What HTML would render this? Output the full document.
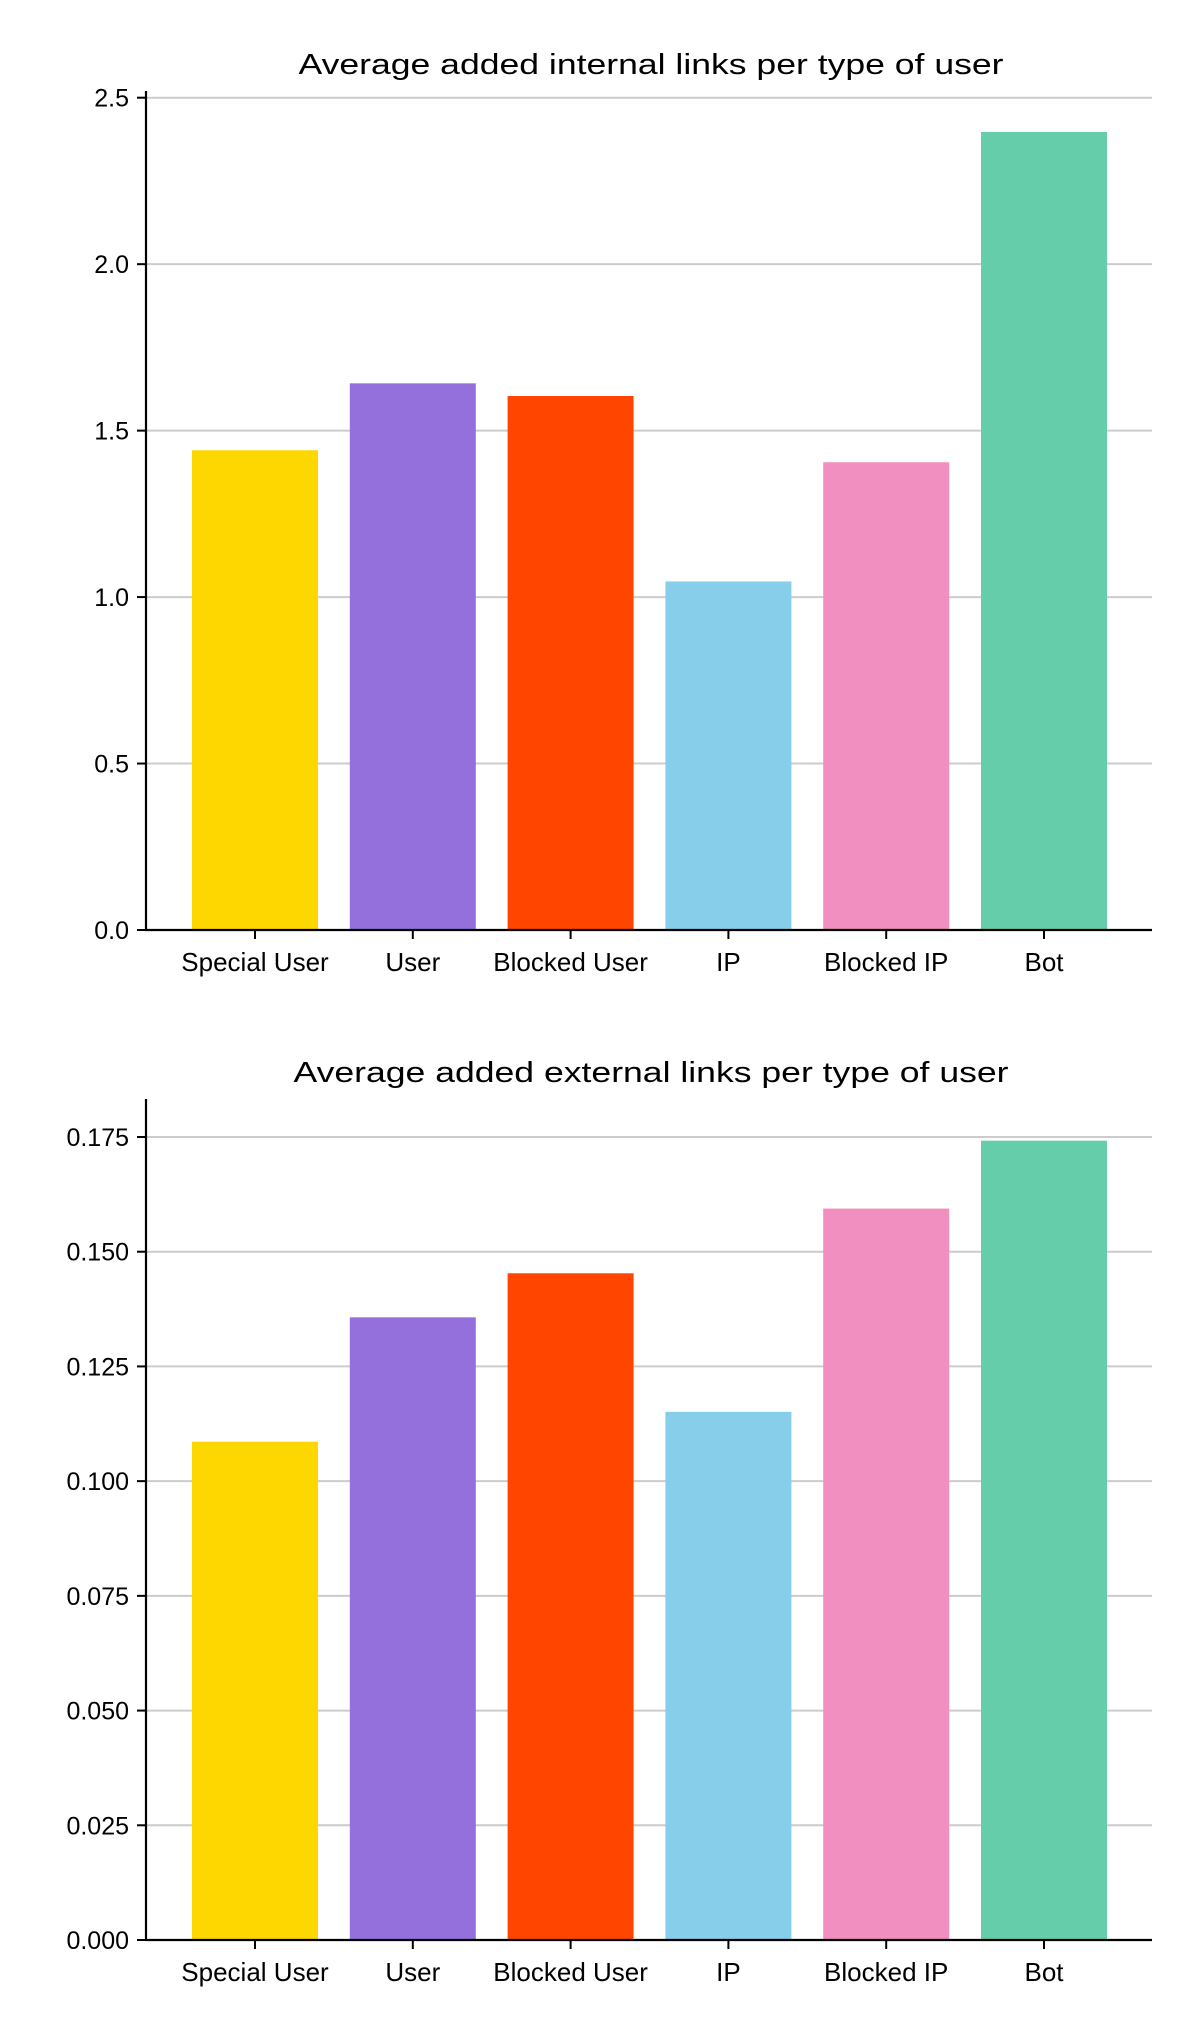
<!DOCTYPE html>
<html><head><meta charset="utf-8"><style>
html,body{margin:0;padding:0;background:#fff}
svg{display:block;font-family:"Liberation Sans",sans-serif}
</style></head><body>
<svg id="svg" width="1203" height="2036" viewBox="0 0 1203 2036"></svg>
<script>
const categories = ["Special User","User","Blocked User","IP","Blocked IP","Bot"];
const colors = ["#FFD700","#9370DB","#FF4500","#87CEEB","#F08FC0","#66CDAA"];
const internalValues = [1.441,1.642,1.604,1.047,1.405,2.397];
const externalValues = [0.1086,0.1357,0.1453,0.1151,0.1594,0.1742];
const internalTicks = ["0.0","0.5","1.0","1.5","2.0","2.5"];
const externalTicks = ["0.000","0.025","0.050","0.075","0.100","0.125","0.150","0.175"];
const NS="http://www.w3.org/2000/svg";
const svg=document.getElementById('svg');
function mk(tag,attrs,parent){const e=document.createElementNS(NS,tag);for(const k in attrs)e.setAttribute(k,attrs[k]);(parent||svg).appendChild(e);return e;}
function chart(o){
  const g=mk('g',{});
  
  
  const x0=146,x1=1152;
  const y=v=>o.zeroY-(v/o.tickStep)*o.stepPx;
  const t=mk('text',{x:(x0+x1)/2+2,y:o.titleY,'text-anchor':'middle','font-size':29,fill:'#000',textLength:o.titleW,lengthAdjust:'spacingAndGlyphs'},g);
  t.textContent=o.title;
  
  
  o.ticks.forEach((lab,i)=>{
    const yy=y(i*o.tickStep);
    if(i>0){const gl=mk('line',{x1:x0,x2:x1,y1:yy,y2:yy,stroke:'#cccccc','stroke-width':2},g);
      
      }
    mk('line',{x1:x0-9,x2:x0,y1:yy,y2:yy,stroke:'#000','stroke-width':2},g);
    const tl=mk('text',{x:x0-17,y:yy+9,'text-anchor':'end','font-size':25,fill:'#000'},g);
    tl.textContent=lab;
    
    
  });
  const step=157.8, bw=126, c0=255;
  categories.forEach((c,i)=>{
    const cx=c0+i*step, v=o.values[i];
    const r=mk('rect',{x:cx-bw/2,y:y(v),width:bw,height:o.zeroY-y(v),fill:colors[i]},g);
    
    
    mk('line',{x1:cx,x2:cx,y1:o.zeroY,y2:o.zeroY+9,stroke:'#000','stroke-width':2},g);
    const xl=mk('text',{x:cx,y:o.zeroY+41,'text-anchor':'middle','font-size':26,fill:'#000'},g);
    xl.textContent=c;
    
    
  });
  const ya=mk('line',{x1:x0,x2:x0,y1:o.axisTop,y2:o.zeroY+1,stroke:'#000','stroke-width':2.2},g);
  
  
  const xa=mk('line',{x1:x0-1,x2:x1,y1:o.zeroY,y2:o.zeroY,stroke:'#000','stroke-width':2.2},g);
  
  
}
chart({name:'internal-links-chart',title:'Average added internal links per type of user',titleY:74,titleW:705,
  values:internalValues,ticks:internalTicks,tickStep:0.5,zeroY:930,stepPx:(930-97.7)/5,axisTop:91});
chart({name:'external-links-chart',title:'Average added external links per type of user',titleY:1082,titleW:715,
  values:externalValues,ticks:externalTicks,tickStep:0.025,zeroY:1940,stepPx:(1940-1137)/7,axisTop:1099});
</script>
</body></html>
